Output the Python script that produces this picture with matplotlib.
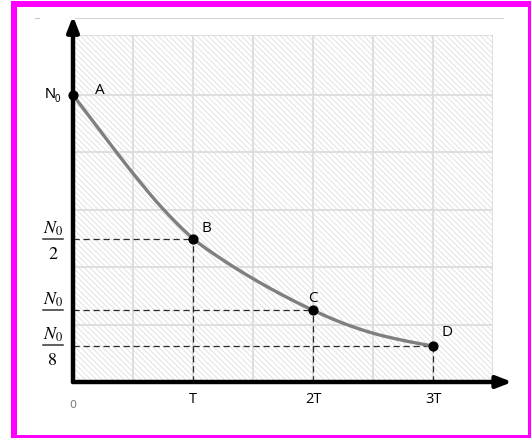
import numpy as np
import matplotlib
matplotlib.use("Agg")
import matplotlib.pyplot as plt
from matplotlib.patches import Rectangle

# vrijeme u jedinicama T, broj jezgri u jedinicama N0
t_read = [0.0, 0.25, 0.5, 0.75, 1.0, 1.25, 1.5, 1.75, 2.0, 2.25, 2.5, 2.75, 3.0]
n_read = [1.0, 0.862, 0.727, 0.603, 0.5, 0.425, 0.36, 0.302, 0.25, 0.205, 0.17, 0.145, 0.125]

# istaknute tocke na krivulji
point_names = ["A", "B", "C", "D"]
point_t = [0.0, 1.0, 2.0, 3.0]
point_n = [1.0, 0.5, 0.25, 0.125]

tick_t = [1.0, 2.0, 3.0]
tick_labels = ["T", "2T", "3T"]

W, H = 531, 439
fig = plt.figure(figsize=(W / 100, H / 100), dpi=100)
fig.patch.set_facecolor("white")


def fx(px):
    return px / W


def fy(py):
    return 1 - py / H


# okvir
for x0, y0, x1, y1 in [(11, 2, 531, 8), (11, 2, 17, 439), (528, 2, 531, 439), (11, 436, 531, 439)]:
    fig.patches.append(Rectangle((fx(x0), fy(y1)), fx(x1) - fx(x0), fy(y0) - fy(y1),
                                 transform=fig.transFigure, color="#ff00ff", lw=0))
fig.add_artist(plt.Line2D([fx(75), fx(503)], [fy(19), fy(19)], color="#d4d4d4", lw=0.8))
fig.add_artist(plt.Line2D([fx(35), fx(39)], [fy(19), fy(19)], color="#c8c8c8", lw=0.8))

ax = fig.add_axes([fx(73), fy(383), fx(493) - fx(73), fy(36) - fy(383)])
ax.set_xlim(0, 3.5)
ax.set_ylim(0, 347 / 287)
for s in ax.spines.values():
    s.set_visible(False)
ax.set_xticks([])
ax.set_yticks([])

# srafirana pozadina i mreza
plt.rcParams["hatch.color"] = "#dedede"
plt.rcParams["hatch.linewidth"] = 0.6
ax.add_patch(Rectangle((0, 0), 3.5, 347 / 287, facecolor="white", edgecolor="#dedede",
                       hatch="\\\\\\\\\\\\", lw=0, zorder=0))
for gx in np.arange(0, 3.51, 0.5):
    ax.axvline(gx, color="#dcdcdc", lw=1.3, zorder=1)
for gy in [0.2, 0.4, 0.6, 0.8, 1.0, 347 / 287]:
    ax.axhline(gy, color="#dcdcdc", lw=1.3, zorder=1)

# glatka krivulja kroz ocitane tocke (Catmull-Rom)
P = np.column_stack([t_read, n_read])
P = np.vstack([2 * P[0] - P[1], P, 2 * P[-1] - P[-2]])
xs, ys = [], []
u = np.linspace(0, 1, 20, endpoint=False)
for i in range(1, len(P) - 2):
    p0, p1, p2, p3 = P[i - 1], P[i], P[i + 1], P[i + 2]
    for uu in u:
        q = 0.5 * (2 * p1 + (-p0 + p2) * uu + (2 * p0 - 5 * p1 + 4 * p2 - p3) * uu ** 2
                   + (-p0 + 3 * p1 - 3 * p2 + p3) * uu ** 3)
        xs.append(q[0])
        ys.append(q[1])
xs.append(t_read[-1])
ys.append(n_read[-1])
ax.plot(xs, ys, color="#7f7f7f", lw=2.4, zorder=3, solid_capstyle="round")

# isprekidane linije do osi
for pt, pn in zip(point_t[1:], point_n[1:]):
    ax.plot([0, pt], [pn, pn], color="#2a2a2a", lw=0.9, ls=(0, (5, 3)), zorder=2)
    ax.plot([pt, pt], [0, pn], color="#2a2a2a", lw=0.9, ls=(0, (5, 3)), zorder=2)

ax.scatter(point_t, point_n, s=40, color="black", zorder=5, clip_on=False)

label_off = [(0.22, 0.02), (0.11, 0.04), (0.0, 0.045), (0.12, 0.05)]
for name, pt, pn, (dx, dy) in zip(point_names, point_t, point_n, label_off):
    ax.text(pt + dx, pn + dy, name, fontsize=11, family="Open Sans", ha="center", va="center")

# osi sa strelicama
ax.annotate("", xy=(3.66, 0), xytext=(0, 0), annotation_clip=False,
            arrowprops=dict(arrowstyle="-|>,head_length=0.9,head_width=0.35", color="black", lw=3.2,
                            shrinkA=0, shrinkB=0))
ax.annotate("", xy=(0, 366 / 287), xytext=(0, 0), annotation_clip=False,
            arrowprops=dict(arrowstyle="-|>,head_length=0.9,head_width=0.35", color="black", lw=3.2,
                            shrinkA=0, shrinkB=0))

# oznake na osi x
ax.text(0, -22 / 287, "0", fontsize=8, color="#7a7a7a", ha="center", va="center", family="DejaVu Sans")
for tt, lab in zip(tick_t, tick_labels):
    ax.text(tt, -17 / 287, lab, fontsize=10.5, ha="center", va="center", family="Open Sans")

# oznake na osi y
ax.text(-0.192, 1.008, "N", fontsize=11, ha="center", va="center", family="Liberation Sans")
ax.text(-0.128, 0.99, "0", fontsize=7, ha="center", va="center", family="Liberation Sans")

plt.rcParams["mathtext.fontset"] = "stix"
frac = [(0.5, "2", 240), (0.25, None, 311), (0.125, "8", 346)]
for val, den, py in frac:
    yl = (383 - py) / 287
    ax.plot([-0.25, -0.083], [yl, yl], color="#333333", lw=1.1, clip_on=False)
    ax.text(-0.167, yl + 11 / 287, r"$N_0$", fontsize=13, ha="center", va="center")
    if den:
        ax.text(-0.167, yl - 15 / 287, den, fontsize=13, ha="center", va="center", family="STIXGeneral")

fig.savefig("out.png", dpi=100)
